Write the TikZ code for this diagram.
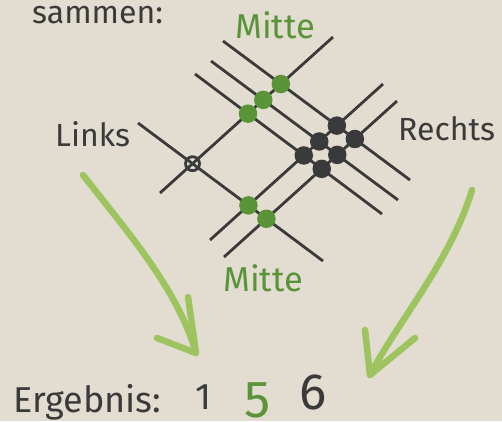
\documentclass[tikz,border=0pt]{standalone}
\usepackage{fontspec}
\setmainfont{Fira Sans}
\definecolor{bg}{HTML}{E3DCD1}
\definecolor{ink}{HTML}{3A3A3A}
\definecolor{dotgreen}{HTML}{5A9438}
\definecolor{arrowgreen}{HTML}{9DC45F}
\tikzset{
  gridline/.style={draw=ink, line width=2.8pt},
  gdot/.style={circle, fill=dotgreen, minimum size=18.5pt, inner sep=0pt},
  bdot/.style={circle, fill=ink, minimum size=18.5pt, inner sep=0pt},
  xdot/.style={circle, draw=ink, line width=2.8pt, minimum size=14pt, inner sep=0pt},
  lbl/.style={text=ink, font=\fontsize{32}{38}\selectfont, anchor=base west, inner sep=0pt},
  glbl/.style={lbl, text=dotgreen, font=\fontsize{34.5}{40}\selectfont},
  digit/.style={anchor=base, inner sep=0pt},
  handarrow/.style={draw=arrowgreen, line width=6.5pt, line cap=round, line join=round},
}
\begin{document}
\begin{tikzpicture}[x=1pt, y=-1pt]
\useasboundingbox (0,0) rectangle (502,421);
\fill[bg] (0,0) rectangle (502,421);

% line end points
\coordinate (L1a) at (138,123); \coordinate (L1b) at (323,261);
\coordinate (M1a) at (160,193); \coordinate (M1b) at (333,37);
\coordinate (Aa) at (223,41);   \coordinate (Ab) at (410,180);
\coordinate (Ba) at (211,61);   \coordinate (Bb) at (398,200);
\coordinate (Ca) at (195,74);   \coordinate (Cb) at (382,214);
\coordinate (Da) at (210,240);  \coordinate (Db) at (383,84);
\coordinate (Ea) at (224,257);  \coordinate (Eb) at (397,101);

\draw[gridline] (L1a) -- (L1b);
\draw[gridline] (M1a) -- (M1b);
\draw[gridline] (Aa) -- (Ab);
\draw[gridline] (Ba) -- (Bb);
\draw[gridline] (Ca) -- (Cb);
\draw[gridline] (Da) -- (Db);
\draw[gridline] (Ea) -- (Eb);

% intersections
\node[xdot] (x1) at (intersection of L1a--L1b and M1a--M1b) {};
\node[gdot] (g1) at (intersection of Aa--Ab and M1a--M1b) {};
\node[gdot] (g2) at (intersection of Ba--Bb and M1a--M1b) {};
\node[gdot] (g3) at (intersection of Ca--Cb and M1a--M1b) {};
\node[gdot] (g4) at (intersection of L1a--L1b and Da--Db) {};
\node[gdot] (g5) at (intersection of L1a--L1b and Ea--Eb) {};
\node[bdot] (b1) at (intersection of Aa--Ab and Da--Db) {};
\node[bdot] (b2) at (intersection of Ba--Bb and Da--Db) {};
\node[bdot] (b3) at (intersection of Ca--Cb and Da--Db) {};
\node[bdot] (b4) at (intersection of Aa--Ab and Ea--Eb) {};
\node[bdot] (b5) at (intersection of Ba--Bb and Ea--Eb) {};
\node[bdot] (b6) at (intersection of Ca--Cb and Ea--Eb) {};

% labels
\node[lbl] (sammen) at (32,23.3) {sammen:};
\node[glbl] (mittetop) at (235,38) {Mitte};
\node[lbl] (links) at (55,146.7) {Links};
\node[lbl] (rechts) at (398,140) {Rechts};
\node[glbl] (mittebot) at (223,291.7) {Mitte};
\node[lbl, font=\fontsize{36}{42}\selectfont] (erg) at (13,412) {Ergebnis:};
\node[digit, text=ink, font=\fontsize{37}{42}\selectfont] (d1) at (204,409.5) {1};
\node[digit, text=dotgreen, font=\fontsize{52}{60}\selectfont] (d5) at (257.5,417) {5};
\node[digit, text=ink, font=\fontsize{51}{60}\selectfont] (d6) at (313.5,409.5) {6};

% hand drawn arrows
\coordinate (la0) at (83,175);  \coordinate (latip) at (196,353);
\coordinate (lah1) at (157,338); \coordinate (lah2) at (188,297);
\draw[handarrow] (la0) .. controls (130,235) and (178,290) .. (latip);
\draw[handarrow] (lah1) -- (latip) -- (lah2);

\coordinate (ra0) at (472,190); \coordinate (ratip) at (370,375);
\coordinate (rah1) at (365,330); \coordinate (rah2) at (415,338);
\draw[handarrow] (ra0) .. controls (450,262) and (400,318) .. (ratip);
\draw[handarrow] (rah1) -- (ratip) -- (rah2);
\end{tikzpicture}
\end{document}
